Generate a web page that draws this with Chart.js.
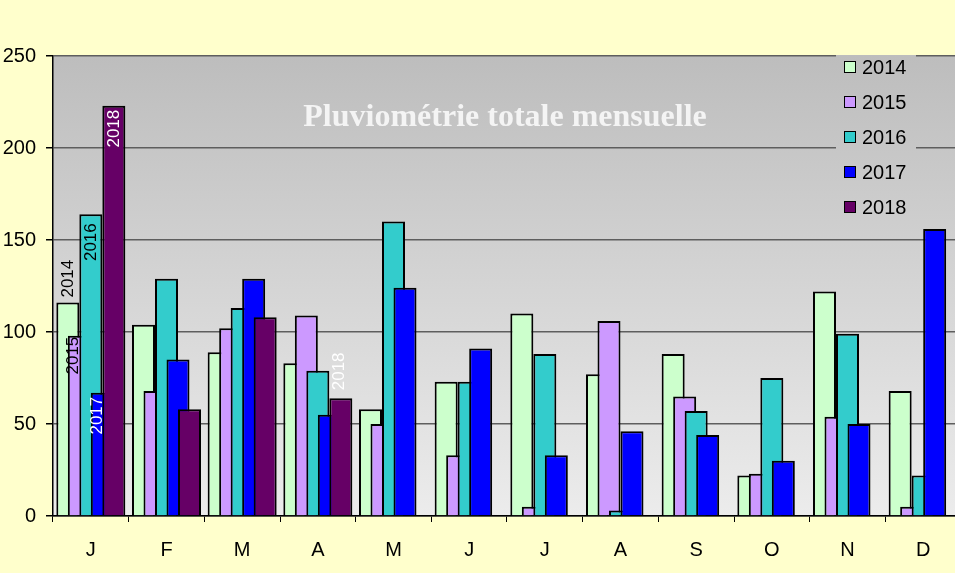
<!DOCTYPE html>
<html>
<head>
<meta charset="utf-8">
<script src="https://cdn.jsdelivr.net/npm/chart.js@4/dist/chart.umd.min.js"></script>
<style>
    html, body { margin: 0; padding: 0; background: #ffffcc; overflow: hidden; }
    #wrap { position: absolute; left: 0; top: 0; width: 962px; height: 573px; }
</style>
</head>
<body>
<div id="wrap"><canvas id="chart" width="962" height="573"></canvas></div>
<script>
// --- DATA ---
const months = ['J', 'F', 'M', 'A', 'M', 'J', 'J', 'A', 'S', 'O', 'N', 'D'];
const years = ['2014', '2015', '2016', '2017', '2018'];
const rain2014 = [116, 104, 89, 83, 58, 73, 110, 77, 88, 22, 122, 68];
const rain2015 = [98, 68, 102, 109, 50, 33, 5, 106, 65, 23, 54, 5];
const rain2016 = [164, 129, 113, 79, 160, 73, 88, 3, 57, 75, 99, 22];
const rain2017 = [67, 85, 129, 55, 124, 91, 33, 46, 44, 30, 50, 156];
const rain2018 = [223, 58, 108, 64, null, null, null, null, null, null, null, null];
const yTicks = [0, 50, 100, 150, 200, 250];
const chartTitle = 'Pluviométrie totale mensuelle';

const colors = ['#ccffcc', '#cc99ff', '#33cccc', '#0000ff', '#660066'];
const series = [rain2014, rain2015, rain2016, rain2017, rain2018];

// Gradient used for the plot area (and the legend box sitting on it)
let plotGradient = null;
const getGradient = (chart) => {
    const { ctx, chartArea } = chart;
    plotGradient = ctx.createLinearGradient(0, chartArea.top, 0, chartArea.bottom);
    plotGradient.addColorStop(0, '#bdbdbd');
    plotGradient.addColorStop(1, '#ececec');
    return plotGradient;
};

const plotBackground = {
    id: 'plotBackground',
    beforeDraw(chart) {
        const { ctx, chartArea } = chart;
        ctx.save();
        ctx.fillStyle = getGradient(chart);
        ctx.fillRect(chartArea.left, chartArea.top, chartArea.right - chartArea.left, chartArea.bottom - chartArea.top);
        ctx.restore();
    }
};

// Excel style: later series drawn on top of earlier ones
const drawOrder = {
    id: 'drawOrder',
    beforeDatasetsDraw(chart) {
        for (let i = 0; i < chart.data.datasets.length; i++) {
            chart.getDatasetMeta(i).controller.draw();
        }
        return false;
    }
};

// Rotated year labels on a few bars: [dataset, month, mode, gap, colour, dx]
const barLabels = [
    [0, 0, 'above', 5, '#000', 0],
    [1, 0, 'inside', 1, '#000', -6],
    [2, 0, 'inside', 9, '#000', 0],
    [3, 0, 'inside', 4, '#fff', -5],
    [4, 0, 'inside', 4, '#fff', 0],
    [4, 3, 'above', 8, '#fff', -2]
];

const overlay = {
    id: 'overlay',
    afterDraw(chart) {
        const { ctx, chartArea } = chart;
        ctx.save();

        // labels on bars
        ctx.font = '17px "Liberation Sans", Arial, sans-serif';
        ctx.textBaseline = 'middle';
        barLabels.forEach(([ds, idx, mode, gap, color, dx]) => {
            const bar = chart.getDatasetMeta(ds).data[idx];
            ctx.save();
            ctx.fillStyle = color;
            if (mode === 'above') {
                ctx.translate(bar.x + dx, bar.y - gap);
                ctx.rotate(-Math.PI / 2);
                ctx.textAlign = 'left';
            } else {
                ctx.translate(bar.x + dx, bar.y + gap);
                ctx.rotate(-Math.PI / 2);
                ctx.textAlign = 'right';
            }
            ctx.fillText(chart.data.datasets[ds].label, 0, 0);
            ctx.restore();
        });

        // title
        ctx.fillStyle = '#f4f4f4';
        ctx.font = 'bold 32px "Liberation Serif", "Times New Roman", serif';
        ctx.textAlign = 'center';
        ctx.textBaseline = 'alphabetic';
        ctx.fillText(chartTitle, 505, 126);

        // legend box (covers the grid lines behind it)
        const lx = 836, ly = chartArea.top - 1, lw = 80, lh = 170;
        ctx.fillStyle = plotGradient;
        ctx.fillRect(lx, ly, lw, lh);
        ctx.font = '20px "Liberation Sans", Arial, sans-serif';
        ctx.textAlign = 'left';
        ctx.textBaseline = 'middle';
        years.forEach((y, i) => {
            const cy = 67 + i * 35;
            ctx.fillStyle = colors[i];
            ctx.fillRect(844, cy - 6, 12, 12);
            ctx.strokeStyle = '#000';
            ctx.lineWidth = 1;
            ctx.strokeRect(844.5, cy - 5.5, 11, 11);
            ctx.fillStyle = '#000';
            ctx.fillText(y, 862, cy + 1);
        });
        ctx.restore();
    }
};

new Chart(document.getElementById('chart'), {
    type: 'bar',
    data: {
        labels: months,
        datasets: years.map((y, i) => ({
            label: y,
            data: series[i],
            backgroundColor: colors[i],
            borderColor: '#000',
            borderWidth: 2,
            borderSkipped: 'bottom',
            categoryPercentage: 0.76,
            barPercentage: 2.0
        }))
    },
    options: {
        responsive: false,
        animation: false,
        devicePixelRatio: 1,
        layout: { padding: { top: 56, right: 1, left: 0, bottom: 0 } },
        plugins: {
            legend: { display: false },
            tooltip: { enabled: false },
            title: { display: false }
        },
        scales: {
            x: {
                afterFit: (scale) => { scale.height = 57; },
                grid: { offset: true, drawOnChartArea: false, tickLength: 6, color: '#000', lineWidth: 1 },
                border: { display: true, color: '#000', width: 1.5 },
                ticks: {
                    color: '#000',
                    padding: 16,
                    font: { family: '"Liberation Sans", Arial, sans-serif', size: 20 }
                }
            },
            y: {
                min: 0,
                max: 250,
                afterFit: (scale) => { scale.width = 53; },
                afterBuildTicks: (scale) => { scale.ticks = yTicks.map(v => ({ value: v })); },
                grid: {
                    color: '#5e5e5e',
                    lineWidth: 1.5,
                    tickLength: 7,
                    tickColor: '#000'
                },
                border: { display: true, color: '#000', width: 1.5 },
                ticks: {
                    color: '#000',
                    padding: 10,
                    font: { family: '"Liberation Sans", Arial, sans-serif', size: 20 }
                }
            }
        }
    },
    plugins: [plotBackground, drawOrder, overlay]
});
</script>
</body>
</html>
